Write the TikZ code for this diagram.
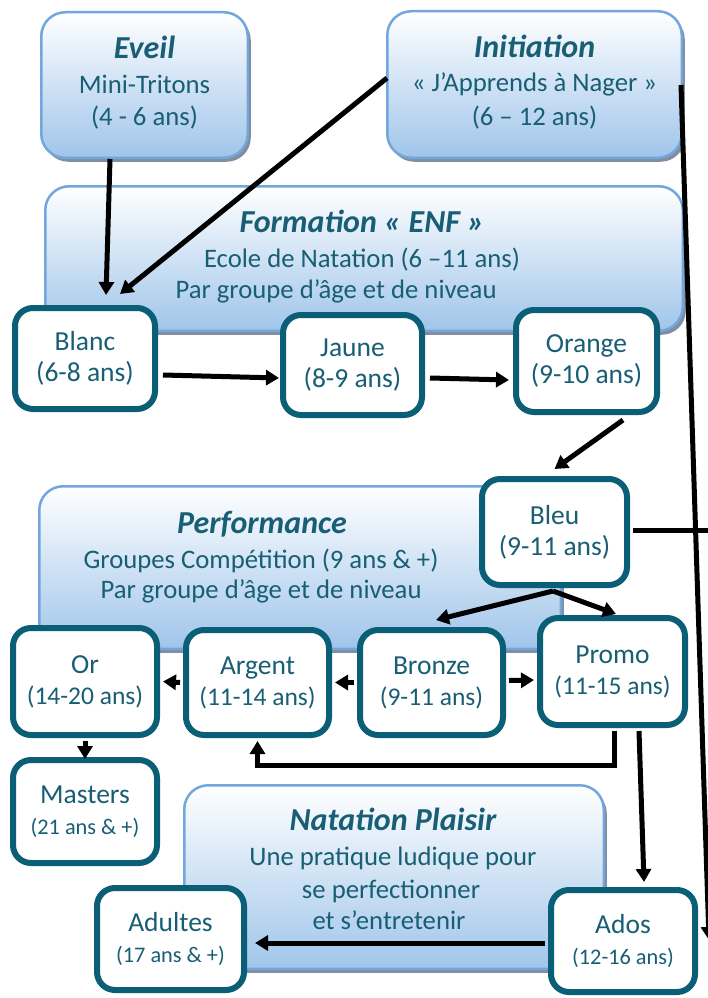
\documentclass[tikz,border=0pt]{standalone}
\usepackage{fontspec}
\setmainfont{Carlito}
\usetikzlibrary{arrows.meta,calc,shadows}
\definecolor{textc}{RGB}{24,94,116}
\definecolor{boxborder}{RGB}{10,94,118}
\definecolor{blueborder}{RGB}{115,166,220}
\definecolor{bluebot}{RGB}{160,197,234}
\definecolor{shadowc}{RGB}{128,142,160}
\begin{document}
\begin{tikzpicture}[x=1pt,y=-1pt,
  bluebox/.style={draw=blueborder, line width=2.5pt, rounded corners=24pt,
    top color=white, bottom color=bluebot, inner sep=0pt,
    drop shadow={shadow xshift=3pt, shadow yshift=-4pt, fill=shadowc, opacity=1}},
  whitebox/.style={draw=boxborder, line width=6pt, fill=white, rounded corners=18pt,
    align=center, text=textc, font=\fontsize{27.5}{31}\selectfont, inner sep=0pt},
  ttl/.style={font=\fontsize{32}{36}\selectfont\bfseries\itshape, text=textc, anchor=base, inner sep=0pt},
  txt/.style={font=\fontsize{26.7}{31}\selectfont, text=textc, anchor=base, inner sep=0pt},
  con/.style={line width=5pt},
  arr/.style={line width=5pt, -{Triangle[length=13pt,width=15pt]}}]
\useasboundingbox (0,0) rectangle (708,998);

% blue group boxes
\node[bluebox, minimum width=206.5pt, minimum height=145.5pt] (eveil) at (144.5,85) {};
\node[bluebox, minimum width=294.5pt, minimum height=146.5pt] (init) at (534.5,84.5) {};
\node[bluebox, minimum width=637.5pt, minimum height=144.5pt] (form) at (364,258.5) {};
\node[bluebox, minimum width=521.5pt, minimum height=162.5pt] (perf) at (300,567.5) {};
\node[bluebox, minimum width=419.5pt, minimum height=183.5pt] (nat) at (394,877) {};

% texts of blue boxes
\node[ttl] (eveilA) at (144.5,59) {Eveil};
\node[txt] (eveilB) at (144.5,93) {Mini-Tritons};
\node[txt] (eveilC) at (144.5,125) {(4 - 6 ans)};
\node[ttl] (initA) at (534.5,58) {Initiation};
\node[txt] (initB) at (534.5,92) {« J’Apprends à Nager »};
\node[txt] (initC) at (534.5,125) {(6 – 12 ans)};
\node[ttl] (formA) at (362,232) {Formation « ENF »};
\node[txt] (formB) at (362,267) {Ecole de Natation (6 –11 ans)};
\node[txt] (formC) at (336,298) {Par groupe d’âge et de niveau};
\node[ttl] (perfA) at (262,533) {Performance};
\node[txt] (perfB) at (261,568) {Groupes Compétition (9 ans \& +)};
\node[txt] (perfC) at (261,598) {Par groupe d’âge et de niveau};
\node[ttl] (natA) at (393,830) {Natation Plaisir};
\node[txt] (natB) at (393,865) {Une pratique ludique pour};
\node[txt] (natC) at (391,898) {se perfectionner};
\node[txt] (natD) at (389,929) {et s’entretenir};

% white level boxes
\node[whitebox, minimum width=140pt, minimum height=101pt] (blanc) at (85,358.5) {Blanc\\(6-8 ans)};
\node[whitebox, minimum width=139pt, minimum height=100pt] (jaune) at (352.5,365) {Jaune\\(8-9 ans)};
\node[whitebox, minimum width=141pt, minimum height=102pt] (orange) at (586.5,361) {Orange\\(9-10 ans)};
\node[whitebox, minimum width=145pt, minimum height=106pt] (bleu) at (554.5,532) {Bleu\\(9-11 ans)};
\node[whitebox, minimum width=144pt, minimum height=107pt] (or) at (85,681.5) {Or\\{\fontsize{25.5}{29}\selectfont (14-20 ans)}};
\node[whitebox, minimum width=143pt, minimum height=105pt] (argent) at (257.5,682.5) {Argent\\{\fontsize{25.5}{29}\selectfont (11-14 ans)}};
\node[whitebox, minimum width=143pt, minimum height=105pt] (bronze) at (431.5,682.5) {Bronze\\{\fontsize{25.5}{29}\selectfont (9-11 ans)}};
\node[whitebox, minimum width=145pt, minimum height=107pt] (promo) at (612.5,671.5) {Promo\\{\fontsize{25.5}{29}\selectfont (11-15 ans)}};
\node[whitebox, minimum width=144pt, minimum height=103pt] (masters) at (85,811.5) {Masters\\{\fontsize{22.3}{25}\selectfont (21 ans \& +)}};
\node[whitebox, minimum width=147pt, minimum height=102pt] (adultes) at (170.5,939) {Adultes\\{\fontsize{22.3}{25}\selectfont (17 ans \& +)}};
\node[whitebox, minimum width=144pt, minimum height=102pt] (ados) at (623,941) {Ados\\{\fontsize{22.3}{25}\selectfont (12-16 ans)}};

% connectors
\draw[arr] ($(eveil.south)+(-34.5,0)$) -- ($(blanc.north)+(21,-10)$);
\draw[arr] ($(init.west)+(1,-6.5)$) -- ($(blanc.north)+(35,-11)$);
\draw[arr] ($(blanc.east)+(5,16.5)$) -- ($(jaune.west)+(-1,13)$);
\draw[arr] ($(jaune.east)+(5,13)$) -- ($(orange.west)+(-4,19)$);
\draw[arr] ($(orange.south)+(36.5,5)$) -- ($(bleu.north)+(0,-7)$);
\draw[arr] ($(bleu.south)+(-1.5,3)$) -- ($(bronze.north)+(4.5,-7)$);
\draw[arr] ($(bleu.south)+(-1.5,3)$) -- ($(promo.north)+(3.5,-1)$);
\draw[arr] ($(bronze.west)+(-3,0)$) -- ($(argent.east)+(3,0)$);
\draw[arr] ($(argent.west)+(-3,0)$) -- ($(or.east)+(3,0)$);
\draw[arr] ($(bronze.east)+(3,-2)$) -- ($(promo.west)+(-3,8.5)$);
\draw[arr] ($(promo.south)+(1.5,3)$) |- ($(argent.south)+(0,27)$) -- ($(argent.south)+(0,3)$);
\draw[arr] ($(promo.south)+(26.5,3)$) -- ($(ados.north)+(21,-5)$);
\draw[arr] ($(or.south)+(0,3)$) -- ($(masters.north)+(0,2)$);
\draw[arr] ($(ados.west)+(-3,2)$) -- ($(adultes.east)+(8,4)$);
\draw[con] ($(bleu.east)+(3,-2)$) -- ($(bleu.east)+(80,-2)$);
\draw[arr] ($(init.east)+(-2,0.5)$) -- ($(ados.east)+(11,-1)$);
\end{tikzpicture}
\end{document}
